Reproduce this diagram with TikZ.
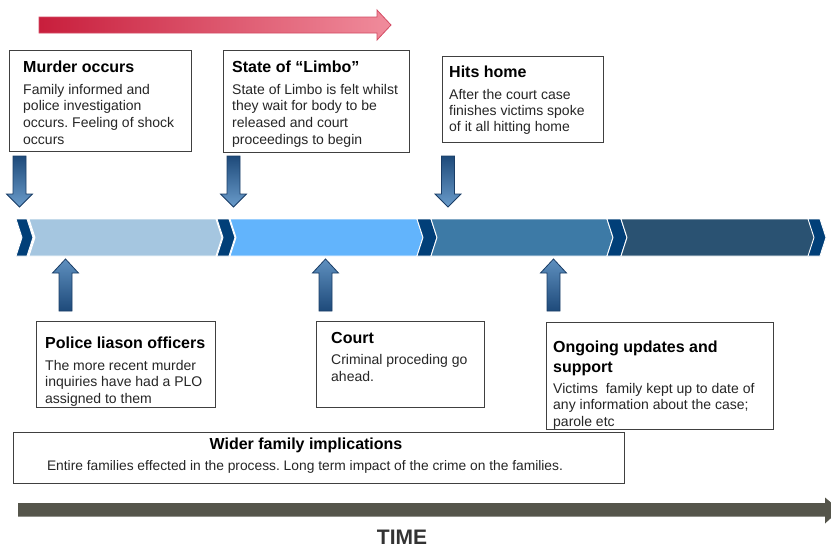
\documentclass[tikz,border=0pt]{standalone}
\usepackage{fontspec}
\setmainfont{Liberation Sans}
\frenchspacing
\definecolor{chevdark}{HTML}{013F78}
\definecolor{chevA}{HTML}{A5C6E0}
\definecolor{chevB}{HTML}{62B4FC}
\definecolor{chevC}{HTML}{3D7AA6}
\definecolor{chevD}{HTML}{2A5272}
\definecolor{arrdark}{HTML}{1E4A7A}
\definecolor{arrlight}{HTML}{6A9CCB}
\definecolor{arrline}{HTML}{1A3D66}
\definecolor{redA}{HTML}{C81E3C}
\definecolor{redB}{HTML}{F08C9C}
\definecolor{timegray}{HTML}{55554B}
\newcommand{\chevshape}[3]{\filldraw[draw=white, line width=0.9pt, fill=#3] (#1,219) -- (#2,219) -- (#2+6,237.5) -- (#2,256) -- (#1,256) -- (#1+6,237.5) -- cycle;}
\newcommand{\downarr}[1]{\path[blockarrow, top color=arrdark, bottom color=arrlight] (#1-6.5,156) -- (#1+6.5,156) -- (#1+6.5,194) -- (#1+13,194) -- (#1,207) -- (#1-13,194) -- (#1-6.5,194) -- cycle;}
\newcommand{\uparr}[1]{\path[blockarrow, top color=arrlight!85!arrdark, bottom color=arrdark] (#1-6.5,311) -- (#1+6.5,311) -- (#1+6.5,273) -- (#1+13,273) -- (#1,259) -- (#1-13,273) -- (#1-6.5,273) -- cycle;}
\begin{document}
\begin{tikzpicture}[x=1pt,y=-1pt,
  blockarrow/.style={draw=arrline, line width=0.8pt},
  infobox/.style={draw=black!75, line width=0.9pt, fill=white, inner sep=0pt, outer sep=0pt, anchor=north west},
  ttl/.style={font=\fontsize{16}{19.5}\selectfont\bfseries, text=black, inner sep=0pt, anchor=base west, align=left},
  bdy/.style={font=\fontsize{14}{16.7}\selectfont, text=black!85, inner sep=0pt, anchor=base west, align=left}]
\useasboundingbox (0,0) rectangle (831,549);
% red arrow
\path[draw=redA!80!white, line width=0.8pt, left color=redA, right color=redB] (39,17) -- (377,17) -- (377,10) -- (391,25) -- (377,40) -- (377,33) -- (39,33) -- cycle;
% boxes
\node[infobox, minimum width=182, minimum height=101] (b1) at (9,50) {};
\node[infobox, minimum width=186, minimum height=102] (b2) at (223,50) {};
\node[infobox, minimum width=161, minimum height=86] (b3) at (442,56) {};
\node[infobox, minimum width=179, minimum height=86] (b4) at (36,321) {};
\node[infobox, minimum width=168, minimum height=86] (b5) at (316,321) {};
\node[infobox, minimum width=227, minimum height=107] (b6) at (546,322) {};
\node[infobox, minimum width=611, minimum height=51] (b7) at (13,432) {};
% texts (anchor base = baseline of the last line)
\node[ttl] (t1) at (23,72) {Murder occurs};
\node[bdy] (d1) at (23,144.1) {Family informed and\\police investigation\\occurs. Feeling of shock\\occurs};
\node[ttl] (t2) at (232,72) {State of “Limbo”};
\node[bdy] (d2) at (232,144.1) {State of Limbo is felt whilst\\they wait for body to be\\released and court\\proceedings to begin};
\node[ttl] (t3) at (449,77.5) {Hits home};
\node[bdy, font=\fontsize{14}{16}\selectfont] (d3) at (449,131) {After the court case\\finishes victims spoke\\of it all hitting home};
\node[ttl] (t4) at (45,348) {Police liason officers};
\node[bdy, font=\fontsize{14}{16.5}\selectfont] (d4) at (45,403) {The more recent murder\\inquiries have had a PLO\\assigned to them};
\node[ttl] (t5) at (331,343) {Court};
\node[bdy, font=\fontsize{14}{17}\selectfont] (d5) at (331,381) {Criminal proceding go\\ahead.};
\node[ttl, font=\fontsize{16}{20}\selectfont\bfseries] (t6) at (553,372) {Ongoing updates and\\support};
\node[bdy, font=\fontsize{14}{16.5}\selectfont] (d6) at (553,426) {Victims\ \ family kept up to date of\\any information about the case;\\parole etc};
\node[ttl, anchor=base] (t7) at (306,449) {Wider family implications};
\node[bdy, anchor=base, font=\fontsize{13.8}{16}\selectfont] (d7) at (305,470) {Entire families effected in the process. Long term impact of the crime on the families.};
% down arrows
\downarr{19.5}
\downarr{233.5}
\downarr{448}
% chevron bar
\chevshape{16}{27}{chevdark}
\chevshape{29}{216}{chevA}
\chevshape{217}{229}{chevdark}
\chevshape{230}{417}{chevB}
\chevshape{417}{431}{chevdark}
\chevshape{431}{607}{chevC}
\chevshape{607}{621}{chevdark}
\chevshape{621}{809}{chevD}
\chevshape{808}{820}{chevdark}
% up arrows
\uparr{65.5}
\uparr{325.5}
\uparr{553.5}
% time arrow
\fill[timegray] (18,503) -- (825,503) -- (825,497.5) -- (840,510) -- (825,523.5) -- (825,516.5) -- (18,516.5) -- cycle;
\node[font=\fontsize{21}{24}\selectfont\bfseries, text=black!80, inner sep=0pt, anchor=base] (time) at (402,544) {TIME};
\end{tikzpicture}
\end{document}
